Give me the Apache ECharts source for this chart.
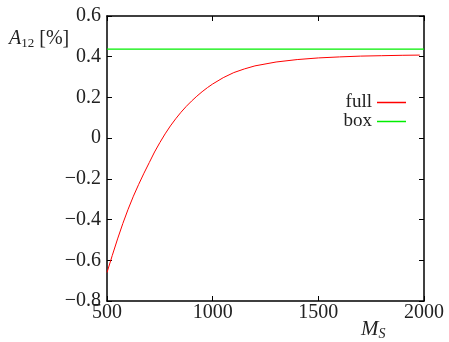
<!DOCTYPE html>
<html>
<head>
<meta charset="utf-8">
<script src="https://cdn.jsdelivr.net/npm/echarts@6/dist/echarts.min.js"></script>
<style>html,body{margin:0;padding:0;background:#fff}#c{width:449px;height:342px}</style>
</head>
<body>
<div id="c"></div>
<script>
const xFull = [500, 525, 550, 575, 600, 625, 650, 675, 700, 725, 750, 775, 800, 825, 850, 875, 900, 925, 950, 975, 1000, 1050, 1100, 1150, 1200, 1300, 1400, 1500, 1600, 1700, 1800, 1900, 1980];
const yFull = [-0.66, -0.576, -0.495, -0.419, -0.349, -0.285, -0.227, -0.172, -0.12, -0.068, -0.022, 0.021, 0.06, 0.095, 0.127, 0.156, 0.182, 0.206, 0.228, 0.248, 0.266, 0.297, 0.322, 0.34, 0.355, 0.374, 0.386, 0.394, 0.399, 0.403, 0.405, 0.407, 0.408];
const xBox = [500, 2000];
const yBox = [0.437, 0.437];
const seriesNames = ['full', 'box'];
const xTicks = [500, 1000, 1500, 2000];
const yTicks = [-0.8, -0.6, -0.4, -0.2, 0, 0.2, 0.4, 0.6];

const font = 'Liberation Serif';
const chart = echarts.init(document.getElementById('c'));
const axisLine = {show: true, onZero: false, lineStyle: {color: '#000', width: 1.5}};
const tick = {show: true, inside: true, length: 5, lineStyle: {color: '#000', width: 1}};
const fmtY = v => '{t|' + (Math.abs(v) < 1e-9 ? '0' : (Math.round(v * 10) / 10).toFixed(1).replace('-', '\u2212')) + '}';
const fmtX = v => '{t|' + String(Math.round(v)) + '}';
const labRich = {t: {fontFamily: font, fontSize: 20, color: '#222'}};
chart.setOption({
  animation: false,
  textStyle: {fontFamily: font},
  grid: {left: 107, right: 25, top: 16, bottom: 41},
  legend: {
    orient: 'vertical', align: 'right', right: 38, top: 88,
    itemWidth: 29, itemHeight: 1.5, itemGap: 0, icon: 'rect',
    textStyle: {fontFamily: font, fontSize: 19, lineHeight: 18, color: '#222'},
    data: seriesNames
  },
  xAxis: [
    {type: 'value', min: xTicks[0], max: xTicks[xTicks.length - 1], interval: 500, position: 'bottom',
     axisLine, axisTick: tick, splitLine: {show: false},
     axisLabel: {margin: 2, fontFamily: font, fontSize: 20, color: '#222', formatter: fmtX, rich: labRich}},
    {type: 'value', min: xTicks[0], max: xTicks[xTicks.length - 1], interval: 500, position: 'top',
     axisLine, axisTick: tick, splitLine: {show: false}, axisLabel: {show: false}}
  ],
  yAxis: [
    {type: 'value', min: yTicks[0], max: yTicks[yTicks.length - 1], interval: 0.2, position: 'left',
     axisLine, axisTick: tick, splitLine: {show: false},
     axisLabel: {margin: 6, fontFamily: font, fontSize: 20, color: '#222', formatter: fmtY, rich: labRich}},
    {type: 'value', min: yTicks[0], max: yTicks[yTicks.length - 1], interval: 0.2, position: 'right',
     axisLine, axisTick: tick, splitLine: {show: false}, axisLabel: {show: false}}
  ],
  graphic: [
    {type: 'text', left: 9, top: 29, style: {
      rich: {
        a: {fontFamily: font, fontStyle: 'italic', fontSize: 20, fill: '#222'},
        s: {fontFamily: font, fontSize: 13, fill: '#222', padding: [9, 0, 0, 0]},
        b: {fontFamily: font, fontSize: 20, fill: '#222'}
      },
      text: '{a|A}{s|12}{b| [%]}'
    }},
    {type: 'text', left: 361, top: 319, style: {
      rich: {
        a: {fontFamily: font, fontStyle: 'italic', fontSize: 21, fill: '#222'},
        s: {fontFamily: font, fontStyle: 'italic', fontSize: 14, fill: '#222', padding: [10, 0, 0, 0]}
      },
      text: '{a|M}{s|S}'
    }}
  ],
  series: [
    {name: seriesNames[0], type: 'line', showSymbol: false, symbol: 'none',
     data: xFull.map((x, i) => [x, yFull[i]]), lineStyle: {color: '#ff0000', width: 1}, itemStyle: {color: '#ff0000'}},
    {name: seriesNames[1], type: 'line', showSymbol: false, symbol: 'none',
     data: xBox.map((x, i) => [x, yBox[i]]), lineStyle: {color: '#00ee00', width: 1.2}, itemStyle: {color: '#00ee00'}}
  ]
});
</script>
</body>
</html>
